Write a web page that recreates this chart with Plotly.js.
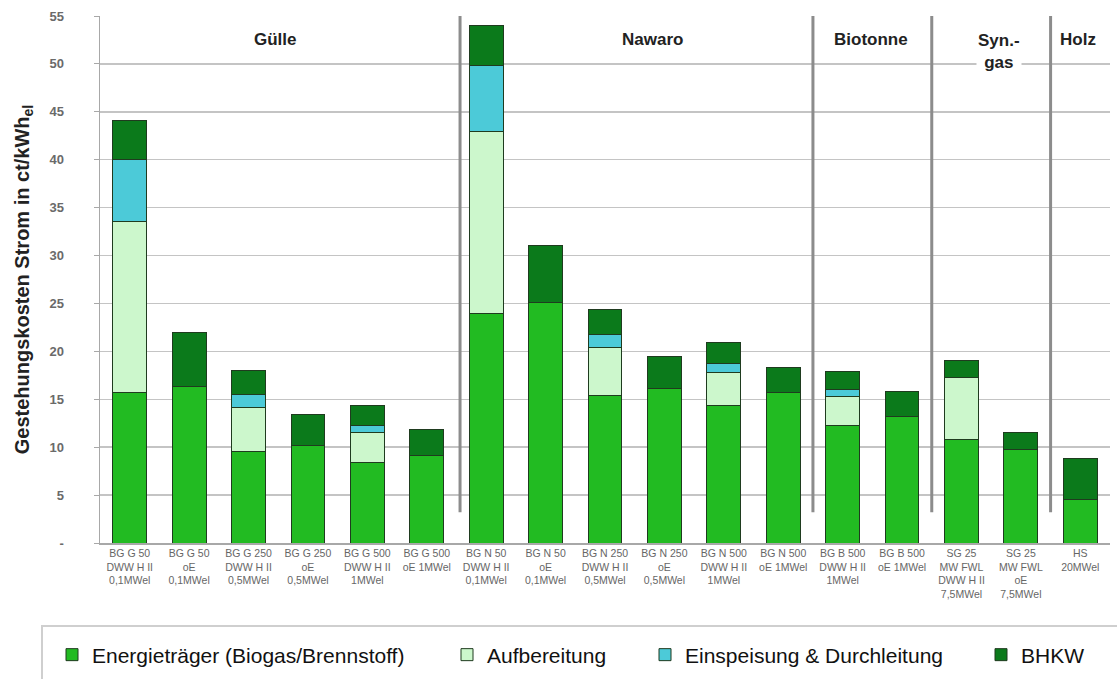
<!DOCTYPE html>
<html>
<head>
<meta charset="utf-8">
<script src="https://cdn.plot.ly/plotly-3.0.1.min.js"></script>
<style>html,body{margin:0;padding:0;background:#fff;}#chart{width:1117px;height:679px;}</style>
</head>
<body>
<div id="chart"></div>
<script>
const categories = [
  'BG G 50<br>DWW H II<br>0,1MWel',
  'BG G 50<br>oE<br>0,1MWel',
  'BG G 250<br>DWW H II<br>0,5MWel',
  'BG G 250<br>oE<br>0,5MWel',
  'BG G 500<br>DWW H II<br>1MWel',
  'BG G 500<br>oE 1MWel',
  'BG N 50<br>DWW H II<br>0,1MWel',
  'BG N 50<br>oE<br>0,1MWel',
  'BG N 250<br>DWW H II<br>0,5MWel',
  'BG N 250<br>oE<br>0,5MWel',
  'BG N 500<br>DWW H II<br>1MWel',
  'BG N 500<br>oE 1MWel',
  'BG B 500<br>DWW H II<br>1MWel',
  'BG B 500<br>oE 1MWel',
  'SG 25<br>MW FWL<br>DWW H II<br>7,5MWel',
  'SG 25<br>MW FWL<br>oE<br>7,5MWel',
  'HS<br>20MWel'
];
const energietraeger = [15.7, 16.3, 9.55, 10.2, 8.4, 9.1, 24.0, 25.1, 15.35, 16.1, 14.4, 15.7, 12.3, 13.2, 10.8, 9.8, 4.5];
const aufbereitung   = [17.9, null, 4.6, null, 3.1, null, 18.9, null, 5.05, null, 3.4, null, 3.0, null, 6.5, null, null];
const einspeisung    = [6.4, null, 1.4, null, 0.8, null, 6.9, null, 1.4, null, 0.9, null, 0.7, null, null, null, null];
const bhkw           = [4.1, 5.7, 2.5, 3.2, 2.1, 2.7, 4.2, 6.0, 2.6, 3.35, 2.2, 2.6, 1.9, 2.6, 1.7, 1.7, 4.3];
const seriesNames = ['Energieträger (Biogas/Brennstoff)', 'Aufbereitung', 'Einspeisung & Durchleitung', 'BHKW'];
const groupNames = ['Gülle', 'Nawaro', 'Biotonne', 'Syn.-<br>gas', 'Holz'];
const yTickVals = [0, 5, 10, 15, 20, 25, 30, 35, 40, 45, 50, 55];
const yTickText = ['-', '5', '10', '15', '20', '25', '30', '35', '40', '45', '50', '55'];

const colors = ['#22bb22', '#ccf7cc', '#4ccad8', '#0b7a1b'];
const seriesData = [energietraeger, aufbereitung, einspeisung, bhkw];
const legendIds = ['legend', 'legend2', 'legend3', 'legend4'];

const traces = seriesData.map((vals, i) => ({
  type: 'bar',
  name: seriesNames[i],
  x: categories,
  y: vals,
  legend: legendIds[i],
  showlegend: true,
  marker: {color: colors[i], line: {color: '#1f3b1f', width: 1}},
  hoverinfo: 'x+y+name'
}));

// layout geometry helpers (plot area: x 100..1110 px, y 16..543 px)
const W = 1117, H = 679;
const pxX = px => (px - 100) / 1010;
const pxY = px => (543 - px) / 527;

const legendFont = {family: 'Arial, Liberation Sans, sans-serif', size: 21, color: '#111'};
function mkLegend(px) {
  return {xref: 'container', yref: 'container', x: px / W, xanchor: 'left', y: 1 - 655 / H, yanchor: 'middle',
          orientation: 'h', bgcolor: 'rgba(0,0,0,0)', font: legendFont, itemwidth: 30,
          borderwidth: 0};
}

const groupX = [2.45, 8.8, 12.48, 14.63, 15.96];
const groupY = [52.6, 52.6, 52.6, 51.3, 52.6];
const annotations = groupNames.map((g, i) => ({
  x: groupX[i], y: groupY[i], xref: 'x', yref: 'y', text: '<b>' + g + '</b>',
  showarrow: false, yanchor: 'middle', bgcolor: '#ffffff',
  font: {family: 'Arial, Liberation Sans, sans-serif', size: 17, color: '#222'}
}));

const sepX = [5.56, 11.5, 13.5, 15.5];
const shapes = sepX.map(x => ({
  type: 'line', xref: 'x', yref: 'y', x0: x, x1: x, y0: 3.2, y1: 55,
  line: {color: '#8c8c8c', width: 3}, layer: 'above'
}));
shapes.push({
  type: 'rect', xref: 'paper', yref: 'paper', x0: pxX(42), x1: pxX(1140), y0: pxY(626), y1: pxY(700),
  line: {color: '#cfcfcf', width: 2}, fillcolor: 'rgba(0,0,0,0)'
});

const layout = {
  width: W, height: H,
  margin: {l: 100, r: 7, t: 16, b: 136},
  paper_bgcolor: '#ffffff', plot_bgcolor: '#ffffff',
  barmode: 'stack', bargap: 0.43,
  font: {family: 'Arial, Liberation Sans, sans-serif'},
  xaxis: {
    type: 'category', categoryorder: 'array', categoryarray: categories,
    tickfont: {size: 10.5, color: '#666'}, tickangle: 0,
    showline: true, linecolor: '#a8a8a8', linewidth: 1.5, ticks: '', showgrid: false
  },
  yaxis: {
    range: [0, 55], tickvals: yTickVals, ticktext: yTickText,
    tickfont: {size: 13, color: '#6a6a6a', family: 'Arial, Liberation Sans, sans-serif', weight: 'bold'},
    ticks: 'outside', ticklen: 5, tickcolor: '#a8a8a8', ticklabelstandoff: 27,
    showline: true, linecolor: '#a8a8a8', linewidth: 1.5,
    showgrid: true, gridcolor: '#c4c4c4', gridwidth: 1.5, zeroline: false,
    title: {text: '<b>Gestehungskosten Strom in ct/kWh<sub>el</sub></b>', standoff: 14,
            font: {size: 20, color: '#222', family: 'Arial, Liberation Sans, sans-serif'}}
  },
  legend: mkLegend(52),
  legend2: mkLegend(447),
  legend3: mkLegend(645),
  legend4: mkLegend(981),
  annotations: annotations,
  shapes: shapes
};

Plotly.newPlot('chart', traces, layout, {displayModeBar: false, staticPlot: true});
</script>
</body>
</html>
